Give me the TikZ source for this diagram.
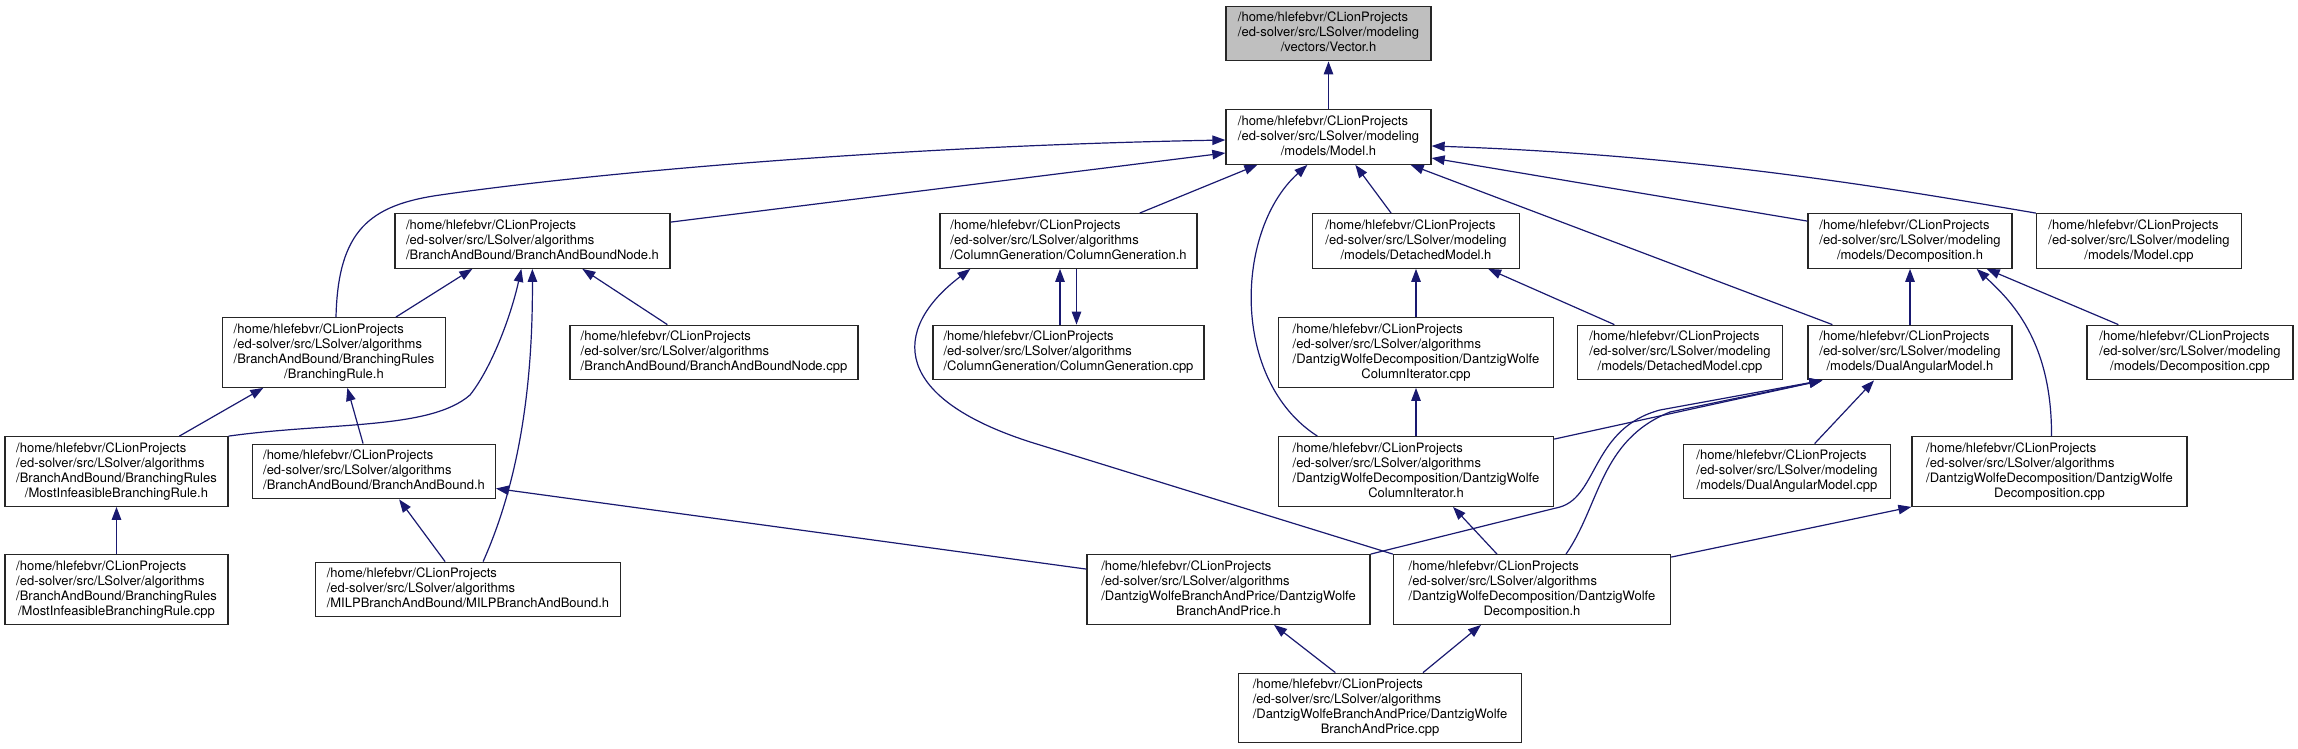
\documentclass[tikz,border=0pt]{standalone}
\usepackage{fontspec}
\usetikzlibrary{arrows.meta}
\newfontfamily\dotfont{TeX Gyre Heros}
\definecolor{midblue}{HTML}{191970}
\definecolor{rootgray}{HTML}{BFBFBF}

\newcommand{\lastc}[1]{\multicolumn{1}{@{}c@{}}{#1}}
\newcommand{\algpath}[1]{\begin{tabular}{@{}l@{}}/home/hlefebvr/CLionProjects\\/ed-solver/src/LSolver/algorithms\\#1\end{tabular}}
\newcommand{\modpath}[1]{\begin{tabular}{@{}l@{}}/home/hlefebvr/CLionProjects\\/ed-solver/src/LSolver/modeling\\#1\end{tabular}}

\begin{document}
\begin{tikzpicture}[x=1pt, y=-1pt,
  hfile/.style={draw=black!85, line width=1.3pt, fill=white, minimum width=205,
                inner xsep=0pt, inner ysep=4.75pt,
                font=\dotfont\fontsize{13}{15}\selectfont},
  root/.style={hfile, fill=rootgray},
  dep/.style={midblue, line width=1.2pt, -{Triangle[length=13pt, width=9.5pt]}}
]
  \useasboundingbox (0,0) rectangle (2298,749);

  % rows 0 and 1
  \node[root] (vec) at (1328.5,33.5) {\modpath{\lastc{/vectors/Vector.h}}};
  \node[hfile] (model) at (1328.5,137) {\modpath{\lastc{/models/Model.h}}};

  % row 2
  \node[hfile, minimum width=275] (bbnode) at (532.5,241)
    {\algpath{/BranchAndBound/BranchAndBoundNode.h}};
  \node[hfile, minimum width=257] (cg) at (1068.5,241)
    {\algpath{/ColumnGeneration/ColumnGeneration.h}};
  \node[hfile, minimum width=206.5] (dm) at (1416,241)
    {\modpath{\lastc{/models/DetachedModel.h}}};
  \node[hfile, minimum width=204] (decomp) at (1910,241)
    {\modpath{\lastc{/models/Decomposition.h}}};
  \node[hfile] (modelcpp) at (2139,241) {\modpath{\lastc{/models/Model.cpp}}};

  % row 3
  \node[hfile, minimum width=223] (brule) at (334,352.5)
    {\algpath{/BranchAndBound/BranchingRules\\\lastc{/BranchingRule.h}}};
  \node[hfile, minimum width=288] (bbnodecpp) at (714,352.5)
    {\algpath{/BranchAndBound/BranchAndBoundNode.cpp}};
  \node[hfile, minimum width=271] (cgcpp) at (1068.5,352.5)
    {\algpath{/ColumnGeneration/ColumnGeneration.cpp}};
  \node[hfile, minimum width=274.5] (cicpp) at (1416,352.5)
    {\algpath{/DantzigWolfeDecomposition/DantzigWolfe\\\lastc{ColumnIterator.cpp}}};
  \node[hfile] (dmcpp) at (1680,352.5) {\modpath{\lastc{/models/DetachedModel.cpp}}};
  \node[hfile, minimum width=204] (dam) at (1910,352.5)
    {\modpath{\lastc{/models/DualAngularModel.h}}};
  \node[hfile, minimum width=206] (decompcpp) at (2190,352.5)
    {\modpath{\lastc{/models/Decomposition.cpp}}};

  % row 4
  \node[hfile, minimum width=223] (mih) at (116.5,471.5)
    {\algpath{/BranchAndBound/BranchingRules\\\lastc{/MostInfeasibleBranchingRule.h}}};
  \node[hfile, minimum width=242.5] (bab) at (374,471.5)
    {\algpath{/BranchAndBound/BranchAndBound.h}};
  \node[hfile, minimum width=275] (cih) at (1416,471.5)
    {\algpath{/DantzigWolfeDecomposition/DantzigWolfe\\\lastc{ColumnIterator.h}}};
  \node[hfile, minimum width=206.5] (damcpp) at (1787,471.5)
    {\modpath{\lastc{/models/DualAngularModel.cpp}}};
  \node[hfile, minimum width=275] (dwdcpp) at (2049.5,471.5)
    {\algpath{/DantzigWolfeDecomposition/DantzigWolfe\\\lastc{Decomposition.cpp}}};

  % row 5
  \node[hfile, minimum width=223] (micpp) at (116.5,589.5)
    {\algpath{/BranchAndBound/BranchingRules\\\lastc{/MostInfeasibleBranchingRule.cpp}}};
  \node[hfile, minimum width=304.5] (milp) at (468,589.5)
    {\algpath{/MILPBranchAndBound/MILPBranchAndBound.h}};
  \node[hfile, minimum width=283] (bap) at (1228.5,589.5)
    {\algpath{/DantzigWolfeBranchAndPrice/DantzigWolfe\\\lastc{BranchAndPrice.h}}};
  \node[hfile, minimum width=277] (dwd) at (1532,589.5)
    {\algpath{/DantzigWolfeDecomposition/DantzigWolfe\\\lastc{Decomposition.h}}};

  % row 6
  \node[hfile, minimum width=283] (bapcpp) at (1380,708)
    {\algpath{/DantzigWolfeBranchAndPrice/DantzigWolfe\\\lastc{BranchAndPrice.cpp}}};

  % includes of Vector.h and Model.h
  \draw[dep] (model.north) -- (vec.south);
  \draw[dep] ([xshift=2]brule.north) .. controls (338,230) and (370,205) .. (440,195)
    .. controls (600,172) and (900,146) .. ([yshift=-3]model.west);
  \draw[dep] ([yshift=-9]bbnode.north east) -- ([yshift=-16]model.west);
  \draw[dep] ([xshift=-58]cg.north east) -- ([xshift=32]model.south west);
  \draw[dep] ([xshift=39.5]cih.north west) .. controls (1230,380) and (1235,230)
    .. ([xshift=82]model.south west);
  \draw[dep] ([xshift=79]dm.north west) -- ([xshift=130]model.south west);
  \draw[dep] ([xshift=25]dam.north west) -- ([xshift=-21]model.south east);
  \draw[dep] ([yshift=-8]decomp.north west) -- ([yshift=-21]model.east);
  \draw[dep] (modelcpp.north west) .. controls (1900,190) and (1700,155)
    .. ([yshift=-9]model.east);

  % branch and bound
  \draw[dep] ([xshift=174]brule.north west) -- ([xshift=78]bbnode.south west);
  \draw[dep] (mih.north east) .. controls (330,422) and (430,430) .. (470,395)
    .. controls (490,370) and (510,320) .. ([xshift=127]bbnode.south west);
  \draw[dep] ([xshift=168]milp.north west) .. controls (515,490) and (533,400)
    .. ([xshift=138]bbnode.south west);
  \draw[dep] ([xshift=98]bbnodecpp.north west) -- ([xshift=188]bbnode.south west);
  \draw[dep] ([xshift=175]mih.north west) -- ([xshift=41.5]brule.south west);
  \draw[dep] ([xshift=111]bab.north west) -- ([xshift=125.5]brule.south west);
  \draw[dep] (micpp.north) -- (mih.south);
  \draw[dep] ([xshift=130]milp.north west) -- ([xshift=147]bab.south west);
  \draw[dep] ([yshift=-15]bap.north west) -- ([yshift=-17]bab.east);

  % column generation
  \draw[dep] ([xshift=-8.5]cgcpp.north) -- ([xshift=-8.5]cg.south);
  \draw[dep] ([xshift=8]cg.south) -- ([xshift=8]cgcpp.north);
  \draw[dep] (dwd.north west) -- (1040,445) .. controls (890,400) and (890,330)
    .. ([xshift=31]cg.south west);

  % models
  \draw[dep] (cih.north) -- (cicpp.south);
  \draw[dep] (cicpp.north) -- (dm.south);
  \draw[dep] ([xshift=37.5]dmcpp.north west) -- ([xshift=176]dm.south west);
  \draw[dep] (dam.north) -- (decomp.south);
  \draw[dep] ([xshift=32]decompcpp.north west) -- ([xshift=-26]decomp.south east);
  \draw[dep] ([xshift=2]dwdcpp.north) .. controls (2052,340) and (2010,300)
    .. ([xshift=-36]decomp.south east);
  \draw[dep] ([yshift=-3]cih.north east) -- ([xshift=15]dam.south west);
  \draw[dep] (bap.north east) -- (1560,507) .. controls (1598,496) and (1592,428)
    .. (1660,410) -- ([xshift=15]dam.south west);
  \draw[dep] ([xshift=34]dwd.north) .. controls (1600,505) and (1600,440)
    .. (1670,412) -- ([xshift=15]dam.south west);
  \draw[dep] ([xshift=131.5]damcpp.north west) -- ([xshift=-36]dam.south);

  % dantzig-wolfe
  \draw[dep] ([xshift=-35]dwd.north) -- ([xshift=37]cih.south);
  \draw[dep] ([yshift=-3]dwd.north east) -- (dwdcpp.south west);
  \draw[dep] ([xshift=97.5]bapcpp.north west) -- ([xshift=45.5]bap.south);
  \draw[dep] ([xshift=43]bapcpp.north) -- ([xshift=-51]dwd.south);
\end{tikzpicture}
\end{document}
